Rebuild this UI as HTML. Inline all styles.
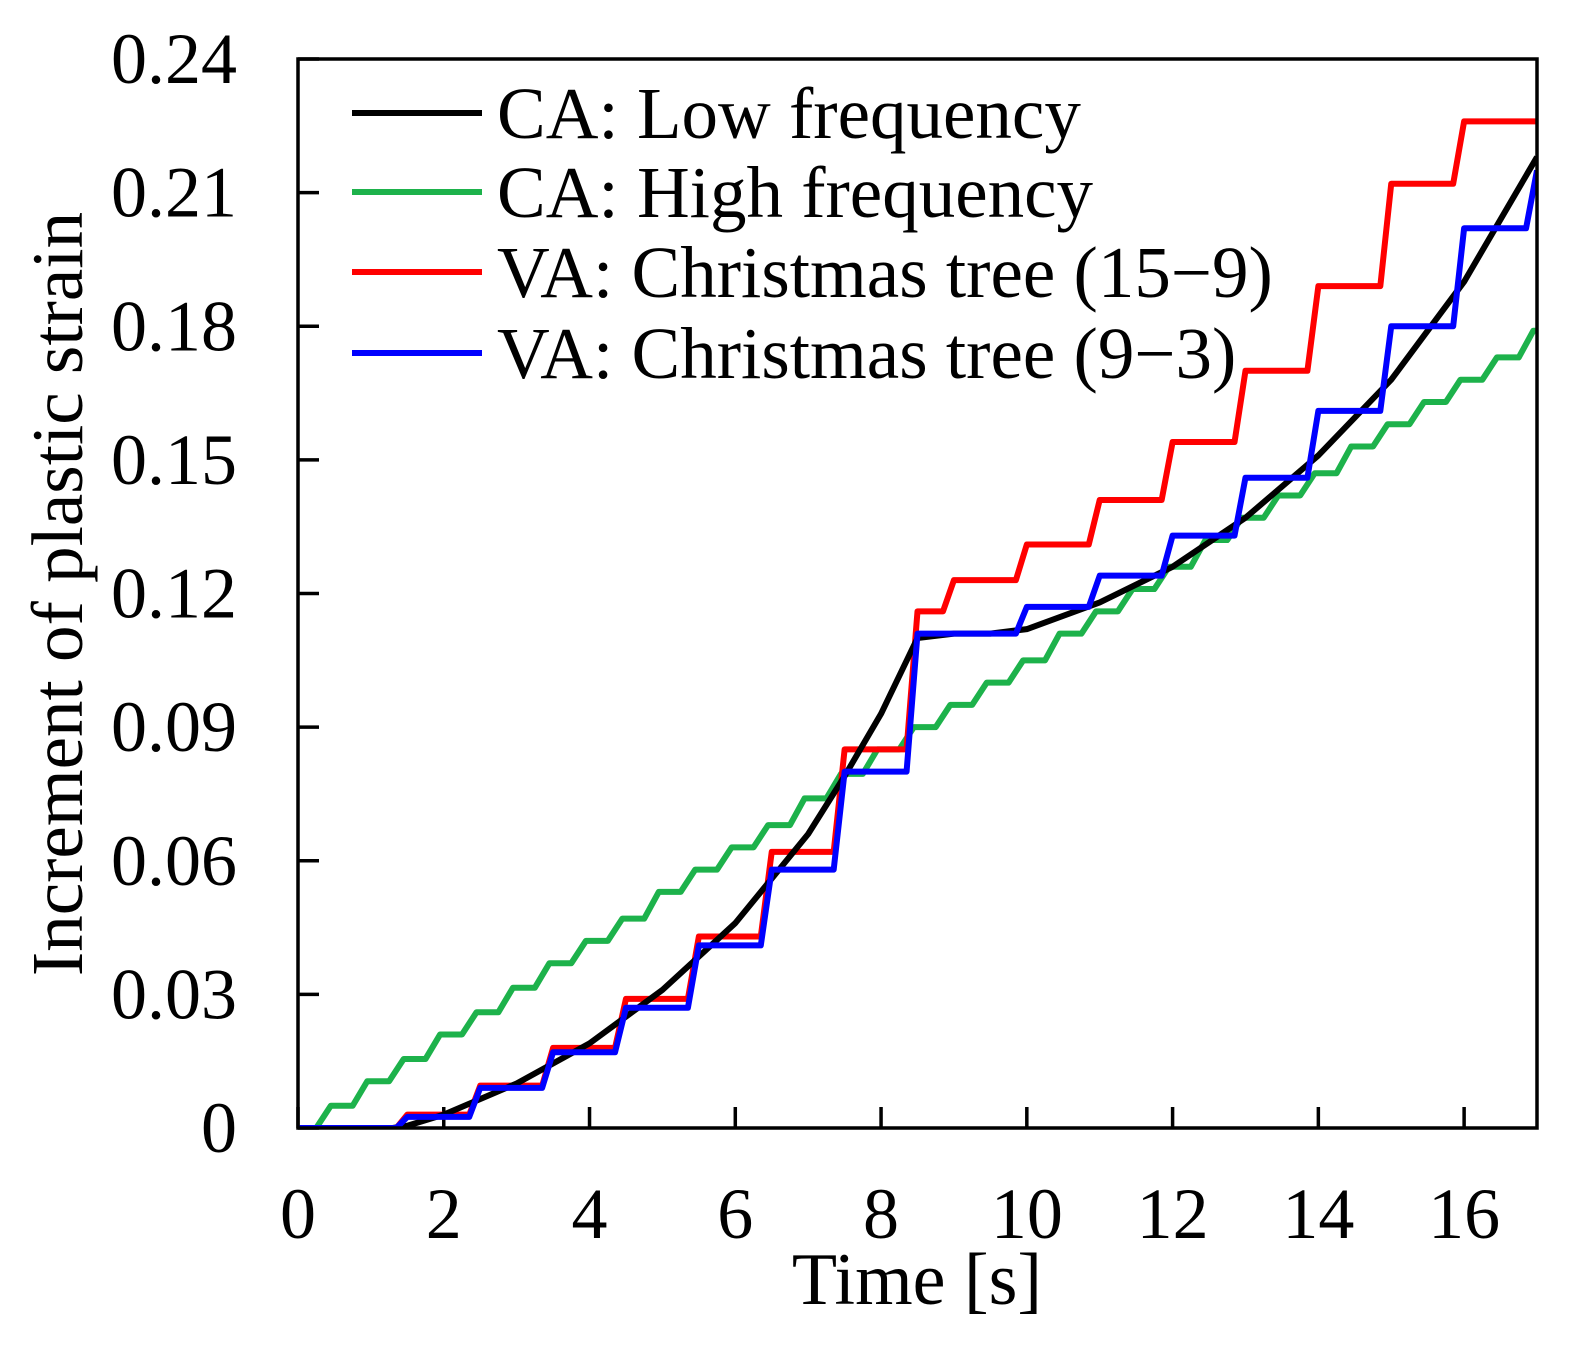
<!DOCTYPE html>
<html><head><meta charset="utf-8"><style>
body{margin:0;background:#fff}
svg{display:block;font-family:"Liberation Serif",serif}
</style></head><body>
<svg width="1585" height="1363">
<g id="plot"></g>
</svg>
<script>
const xTicks=[0,2,4,6,8,10,12,14,16];
const yTicks=[0,0.03,0.06,0.09,0.12,0.15,0.18,0.21,0.24];
const yTickLabels=["0","0.03","0.06","0.09","0.12","0.15","0.18","0.21","0.24"];
const blackT=[0,1.3,1.5,2,3,4,5,6,7,7.5,8,8.5,9,9.5,10,11,12,13,14,15,16,17];
const blackV=[0,0,0.0005,0.003,0.01,0.019,0.031,0.046,0.066,0.079,0.093,0.11,0.111,0.111,0.112,0.118,0.126,0.137,0.151,0.168,0.19,0.218];
const greenSteps=[0.45,0.95,1.45,1.95,2.45,2.95,3.45,3.95,4.45,4.95,5.45,5.95,6.45,6.95,7.45,7.95,8.45,8.95,9.45,9.95,10.45,10.95,11.45,11.95,12.45,12.95,13.45,13.95,14.45,14.95,15.45,15.95,16.45,16.95];
const greenV=[0.005,0.0105,0.0155,0.021,0.026,0.0315,0.037,0.042,0.047,0.053,0.058,0.063,0.068,0.074,0.0795,0.085,0.09,0.095,0.1,0.105,0.111,0.116,0.121,0.126,0.132,0.137,0.142,0.147,0.153,0.158,0.163,0.168,0.173,0.179];
const redSteps=[1.5,2.5,3.5,4.5,5.5,6.5,7.5,8.5,9.0,10.0,11.0,12.0,13.0,14.0,15.0,16.0];
const redV=[0.003,0.0095,0.018,0.029,0.043,0.062,0.085,0.116,0.123,0.131,0.141,0.154,0.17,0.189,0.212,0.226];
const blueSteps=[1.5,2.5,3.5,4.5,5.5,6.5,7.5,8.5,10.0,11.0,12.0,13.0,14.0,15.0,16.0,17.0];
const blueV=[0.0025,0.009,0.017,0.027,0.041,0.058,0.08,0.111,0.117,0.124,0.133,0.146,0.161,0.18,0.202,0.215];
const legendLabels=["CA: Low frequency","CA: High frequency","VA: Christmas tree (15\u22129)","VA: Christmas tree (9\u22123)"];
const colors=["#000","#1db24b","#ff0000","#0000ff"];

const X0=298,X1=1537,Y0=1128,Y1=59;
const sx=t=>X0+(t/17)*(X1-X0);
const sy=v=>Y0-(v/0.24)*(Y0-Y1);
const g=document.getElementById('plot');
const NS="http://www.w3.org/2000/svg";
function mk(tag,attrs,parent){const e=document.createElementNS(NS,tag);for(const k in attrs)e.setAttribute(k,attrs[k]);(parent||g).appendChild(e);return e;}
const clip=mk('clipPath',{id:'c'});mk('rect',{x:X0,y:Y1-10,width:X1-X0,height:Y0-Y1+10},clip);

xTicks.forEach(t=>{
 const l=mk('line',{x1:sx(t),x2:sx(t),y1:Y0,y2:Y0-21,stroke:'#000','stroke-width':3.5});
 
 
 const tx=mk('text',{x:sx(t),y:1238,'font-size':72,'text-anchor':'middle'});tx.textContent=t;
 
 
});
yTicks.forEach((v,i)=>{
 const l=mk('line',{x1:X0,x2:X0+21,y1:sy(v),y2:sy(v),stroke:'#000','stroke-width':3.5});
 
 
 const tx=mk('text',{x:237,y:sy(v)+24,'font-size':72,'text-anchor':'end'});tx.textContent=yTickLabels[i];
 
 
});

function stepPath(steps,vals,d){
 let p=`M${sx(0)},${sy(0)}`;let prev=0;
 steps.forEach((t,i)=>{p+=` L${sx(t-d)},${sy(prev)} L${sx(t)},${sy(vals[i])}`;prev=vals[i];});
 p+=` L${sx(17)},${sy(prev)}`;return p;
}
function series(d,c,name){
 const p=mk('path',{d:d,fill:'none',stroke:c,'stroke-width':6,'stroke-linejoin':'round','clip-path':'url(#c)'});
 
 
}
series(stepPath(greenSteps,greenV,0.2),colors[1],'ca-high-frequency-line');
series(stepPath(redSteps,redV,0.15),colors[2],'va-christmas-15-9-line');
series('M'+blackT.map((t,i)=>sx(t)+','+sy(blackV[i])).join(' L'),colors[0],'ca-low-frequency-line');
series(stepPath(blueSteps,blueV,0.15),colors[3],'va-christmas-9-3-line');

const fr=mk('rect',{x:X0,y:Y1,width:X1-X0,height:Y0-Y1,fill:'none',stroke:'#000','stroke-width':3.5});



const ly=[113,192,272,353];
legendLabels.forEach((s,i)=>{
 const l=mk('line',{x1:352,x2:482,y1:ly[i],y2:ly[i],stroke:colors[i],'stroke-width':6});
 
 
 const t=mk('text',{x:497,y:ly[i]+25,'font-size':73});t.textContent=s;
 
 
});
const xt=mk('text',{x:917,y:1304,'font-size':74,'text-anchor':'middle'});xt.textContent='Time [s]';


const yt=mk('text',{x:0,y:0,'font-size':73,'text-anchor':'middle',transform:'translate(82,594) rotate(-90)'});yt.textContent='Increment of plastic strain';


</script>
</body></html>
